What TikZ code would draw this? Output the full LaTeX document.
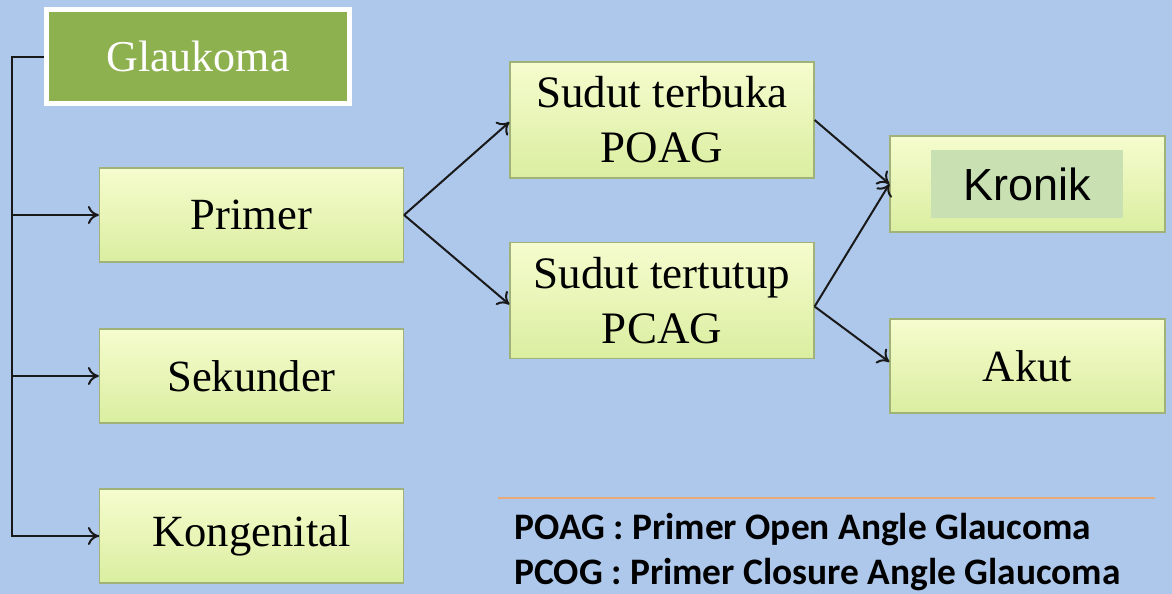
\documentclass[tikz,border=0pt]{standalone}
\usepackage{fontspec}
\setmainfont{Liberation Serif}
\newfontfamily\arialfont{Liberation Sans}
\newfontfamily\calfont{Carlito}
\usetikzlibrary{arrows.meta}
\definecolor{bgblue}{RGB}{174,200,236}
\definecolor{glgreen}{RGB}{142,177,79}
\definecolor{boxtop}{RGB}{246,252,206}
\definecolor{boxbot}{RGB}{218,238,160}
\definecolor{boxline}{RGB}{160,178,120}
\definecolor{kroninner}{RGB}{200,224,178}
\definecolor{sepline}{RGB}{232,170,120}
\tikzset{
  lbox/.style={draw=boxline, line width=0.6pt, top color=boxtop, bottom color=boxbot,
    minimum width=152pt, minimum height=47pt, align=center, inner sep=0pt,
    font=\fontsize{22.3pt}{24pt}\selectfont},
  arr/.style={line width=1pt, draw=black!90, -{To[length=5.5pt,width=9pt]}},
  conn/.style={line width=1pt, draw=black!90},
  legend/.style={anchor=west, inner sep=0pt, font=\calfont\bfseries\fontsize{18.7pt}{20pt}\selectfont}
}
\begin{document}
\begin{tikzpicture}[x=0.5pt,y=-0.5pt]
\fill[bgblue] (0,0) rectangle (1172,594);
\useasboundingbox (0,0) rectangle (1172,594);

\node[draw=white, line width=2.5pt, fill=glgreen, minimum width=151.5pt, minimum height=47pt,
      text=white, font=\fontsize{22pt}{24pt}\selectfont] (g) at (198,56.5) {Glaukoma};

\node[lbox] (pri) at (251.5,215) {Primer};
\node[lbox] (sek) at (251.5,376) {Sekunder};
\node[lbox] (kon) at (251.5,536) {Kongenital};

\node[lbox, minimum height=58pt, font=\fontsize{22.5pt}{27.5pt}\selectfont] (ta) at (662,120) {Sudut terbuka\\POAG};
\node[lbox, minimum height=58pt, font=\fontsize{22.5pt}{27.5pt}\selectfont] (tt) at (662,300.5) {Sudut tertutup\\PCAG};

\node[lbox, minimum width=137.5pt, minimum height=48pt] (kr) at (1027.5,184) {};
\node[fill=kroninner, minimum width=96pt, minimum height=34pt, inner sep=0pt,
      font=\arialfont\fontsize{22.5pt}{24pt}\selectfont] (krt) at (1027,184) {Kronik};
\node[lbox, minimum width=137.5pt, minimum height=47pt] (ak) at (1027.5,366) {Akut};

\coordinate (top) at (12,56.5);
\draw[conn] (g.west) -- (top) |- (kon.west);
\draw[arr] (top |- pri.west) -- (pri.west);
\draw[arr] (top |- sek.west) -- (sek.west);
\draw[arr] (top |- kon.west) -- (kon.west);

\draw[arr] (pri.east) -- ([yshift=-1pt]ta.west);
\draw[arr] (pri.east) -- ([yshift=-2pt]tt.west);
\draw[arr] (ta.east) -- (kr.west);
\draw[arr] ([yshift=-3pt]tt.east) -- (kr.west);
\draw[arr] ([yshift=-3pt]tt.east) -- ([yshift=2pt]ak.west);

\coordinate (s1) at (498,498);
\coordinate (s2) at (1155,498);
\draw[sepline, line width=1.2pt] (s1) -- (s2);

\node[legend] (l1) at (514,530) {POAG : Primer Open Angle Glaucoma};
\node[legend] (l2) at (514,575) {PCOG : Primer Closure Angle Glaucoma};
\end{tikzpicture}
\end{document}
